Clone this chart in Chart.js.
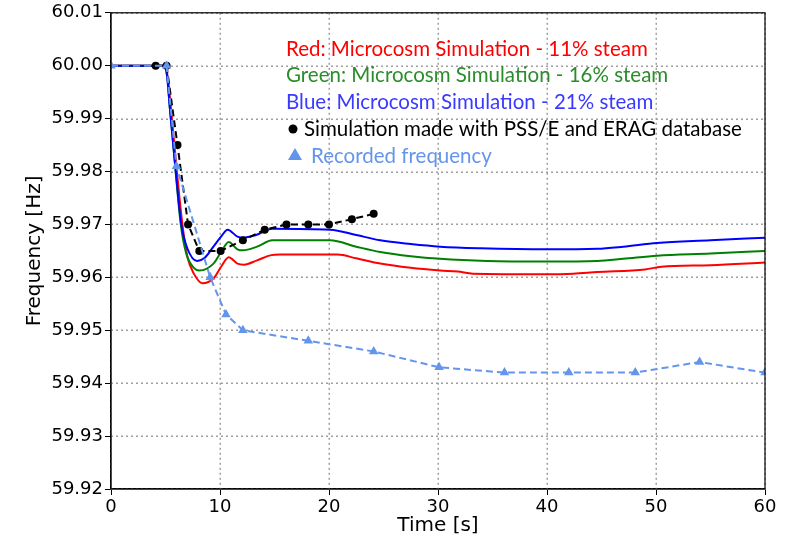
<!DOCTYPE html>
<html>
<head>
<meta charset="utf-8">
<script src="https://cdn.jsdelivr.net/npm/chart.js@4.4.1/dist/chart.umd.min.js"></script>
<style>
  html, body { margin: 0; padding: 0; background: #fff; }
  #wrap { width: 786px; height: 542px; }
</style>
</head>
<body>
<div id="wrap"><canvas id="freq" width="786" height="542"></canvas></div>
<script>
// Microcosm simulations (time in s, frequency in Hz)
const redT   = [0, 4.95, 5.2, 5.5, 5.95, 6.55, 7.0, 7.6, 8.4, 9.4, 10.1, 10.8, 11.6, 12.2, 13.4, 14.7, 15.5, 20.8, 22.5, 24.7, 27.5, 30.2, 31.8, 33.2, 40, 42.4, 44.6, 49, 50.5, 55, 60];
const redF   = [60.000, 60.000, 59.998, 59.992, 59.982, 59.970, 59.964, 59.9607, 59.9589, 59.9598, 59.962, 59.9638, 59.9626, 59.9624, 59.9632, 59.9642, 59.9643, 59.9643, 59.9636, 59.9626, 59.9618, 59.9613, 59.9611, 59.9607, 59.9606, 59.9607, 59.961, 59.9615, 59.962, 59.9623, 59.9628];

const greenT = [0, 4.9, 5.15, 5.4, 5.8, 6.4, 6.9, 7.6, 8.1, 9.4, 10.1, 10.8, 11.6, 12.1, 13.4, 14.8, 20.1, 22.5, 24.7, 27.5, 30.2, 34.5, 40, 44.6, 47, 50.1, 55, 60];
const greenF = [60.000, 60.000, 59.998, 59.992, 59.983, 59.970, 59.9645, 59.9618, 59.9613, 59.9626, 59.9648, 59.9667, 59.9653, 59.9651, 59.9658, 59.967, 59.967, 59.9658, 59.9648, 59.964, 59.9635, 59.9631, 59.963, 59.9631, 59.9635, 59.9641, 59.9645, 59.965];

const blueT  = [0, 4.9, 5.15, 5.4, 5.85, 6.45, 7.0, 7.9, 8.6, 9.4, 10.06, 10.7, 11.6, 12.1, 13.3, 14.8, 20.1, 22.5, 24.7, 27.5, 30.2, 33.9, 40, 44.6, 47, 50.1, 55, 60];
const blueF  = [60.000, 60.000, 59.998, 59.992, 59.982, 59.970, 59.9655, 59.9631, 59.9637, 59.9658, 59.9676, 59.969, 59.9677, 59.9675, 59.968, 59.9692, 59.969, 59.968, 59.967, 59.9663, 59.9658, 59.9655, 59.9653, 59.9654, 59.9658, 59.9665, 59.967, 59.9675];

// PSS/E + ERAG simulation
const psseT  = [4.1, 5.1, 6.1, 7.07, 8.1, 10.06, 12.1, 14.1, 16.1, 18.1, 20.0, 22.1, 24.1];
const psseF  = [60.000, 60.000, 59.985, 59.970, 59.965, 59.965, 59.967, 59.969, 59.970, 59.970, 59.970, 59.971, 59.972];

// Recorded frequency
const recT   = [0, 5.1, 6.0, 9.1, 10.55, 12.1, 18.1, 24.1, 30.1, 36.1, 42.0, 48.1, 54.0, 60];
const recF   = [60.000, 60.000, 59.981, 59.960, 59.953, 59.950, 59.948, 59.946, 59.943, 59.942, 59.942, 59.942, 59.944, 59.942];

const xTicks = [0, 10, 20, 30, 40, 50, 60];
const yTicks = [59.92, 59.93, 59.94, 59.95, 59.96, 59.97, 59.98, 59.99, 60.00, 60.01];

const legendLines = [
  { text: 'Red: Microcosm Simulation - 11% steam', color: '#ff0000' },
  { text: 'Green: Microcosm Simulation - 16% steam', color: '#2a8c2a' },
  { text: 'Blue: Microcosm Simulation - 21% steam', color: '#3a3aff' },
  { text: 'Simulation made with PSS/E and ERAG database', color: '#000000', mark: 'dot' },
  { text: 'Recorded frequency', color: '#6495ed', mark: 'tri' }
];

const pts = (t, f) => t.map((x, i) => ({ x: x, y: f[i] }));

// dotted grid (little squares every 5px), drawn under the lines
const dottedGrid = {
  id: 'dottedGrid',
  beforeDatasetsDraw(chart) {
    const ctx = chart.ctx, a = chart.chartArea;
    const xs = chart.scales.x, ys = chart.scales.y;
    ctx.save();
    ctx.fillStyle = '#a0a0a0';
    xTicks.forEach(v => {
      const px = Math.round(xs.getPixelForValue(v));
      for (let y = a.top; y < a.bottom; y += 5) ctx.fillRect(px - 0.5, y, 1.5, 2);
    });
    yTicks.forEach(v => {
      const py = Math.round(ys.getPixelForValue(v));
      for (let x = a.left; x < a.right; x += 5) ctx.fillRect(x, py - 0.5, 2, 1.5);
    });
    ctx.restore();
  }
};

// top/right spines + text annotations
const annotate = {
  id: 'annotate',
  afterDraw(chart) {
    const ctx = chart.ctx, a = chart.chartArea;
    ctx.save();
    ctx.strokeStyle = '#000';
    ctx.lineWidth = 1.2;
    ctx.strokeRect(a.left, a.top, a.right - a.left, a.bottom - a.top);

    ctx.font = '20.5px Lato, "Open Sans", sans-serif';
    ctx.textBaseline = 'middle';
    const ys = [49, 75, 102, 129, 156];
    legendLines.forEach((l, i) => {
      ctx.fillStyle = l.color;
      let x = 286;
      if (l.mark === 'dot') {
        ctx.beginPath();
        ctx.arc(293, ys[i], 4.5, 0, Math.PI * 2);
        ctx.fill();
        x = 304;
      } else if (l.mark === 'tri') {
        ctx.beginPath();
        ctx.moveTo(295, ys[i] - 8);
        ctx.lineTo(302, ys[i] + 4);
        ctx.lineTo(288, ys[i] + 4);
        ctx.closePath();
        ctx.fill();
        x = 311;
      }
      ctx.fillText(l.text, x, ys[i]);
    });
    ctx.restore();
  }
};

const axisFont = { family: '"DejaVu Sans", sans-serif', size: 18 };
const titleFont = { family: '"DejaVu Sans", sans-serif', size: 20 };

new Chart(document.getElementById('freq'), {
  type: 'line',
  data: {
    datasets: [
      {
        label: 'Recorded frequency',
        data: pts(recT, recF),
        borderColor: '#6495ed', backgroundColor: '#6495ed',
        borderWidth: 2, borderDash: [7, 4],
        pointStyle: 'triangle', pointRadius: 5.5, pointBorderWidth: 0,
        tension: 0, order: 1
      },
      {
        label: 'PSS/E',
        data: pts(psseT, psseF),
        borderColor: '#000', backgroundColor: '#000',
        borderWidth: 2, borderDash: [7, 4],
        pointRadius: 4, pointBorderWidth: 0,
        tension: 0, order: 2
      },
      {
        label: 'Blue', data: pts(blueT, blueF),
        borderColor: '#0000ff', borderWidth: 2, pointRadius: 0,
        cubicInterpolationMode: 'monotone', order: 3
      },
      {
        label: 'Green', data: pts(greenT, greenF),
        borderColor: '#008000', borderWidth: 2, pointRadius: 0,
        cubicInterpolationMode: 'monotone', order: 4
      },
      {
        label: 'Red', data: pts(redT, redF),
        borderColor: '#ff0000', borderWidth: 2, pointRadius: 0,
        cubicInterpolationMode: 'monotone', order: 5
      }
    ]
  },
  options: {
    responsive: false,
    animation: false,
    events: [],
    layout: { padding: { top: 12, right: 21, left: 0, bottom: 0 } },
    plugins: { legend: { display: false }, tooltip: { enabled: false } },
    scales: {
      x: {
        type: 'linear', min: 0, max: 60,
        afterBuildTicks: s => { s.ticks = xTicks.map(v => ({ value: v })); },
        afterFit: s => { s.height = 53; },
        ticks: { color: '#000', font: axisFont, padding: 2, maxRotation: 0 },
        grid: { drawOnChartArea: false, color: '#000', tickColor: '#000', tickLength: 6, lineWidth: 1 },
        border: { color: '#000', width: 1.2 },
        title: { display: true, text: 'Time [s]', color: '#000', font: titleFont, padding: { top: 0, bottom: 4 } }
      },
      y: {
        min: 59.92, max: 60.01,
        afterBuildTicks: s => { s.ticks = yTicks.map(v => ({ value: v })); },
        afterFit: s => { s.width = 111; },
        ticks: { color: '#000', font: axisFont, padding: 2, callback: v => v.toFixed(2) },
        grid: { drawOnChartArea: false, color: '#000', tickColor: '#000', tickLength: 6, lineWidth: 1 },
        border: { color: '#000', width: 1.2 },
        title: { display: true, text: 'Frequency [Hz]', color: '#000', font: titleFont, padding: { top: 23, bottom: 0 } }
      }
    }
  },
  plugins: [dottedGrid, annotate]
});
</script>
</body>
</html>
